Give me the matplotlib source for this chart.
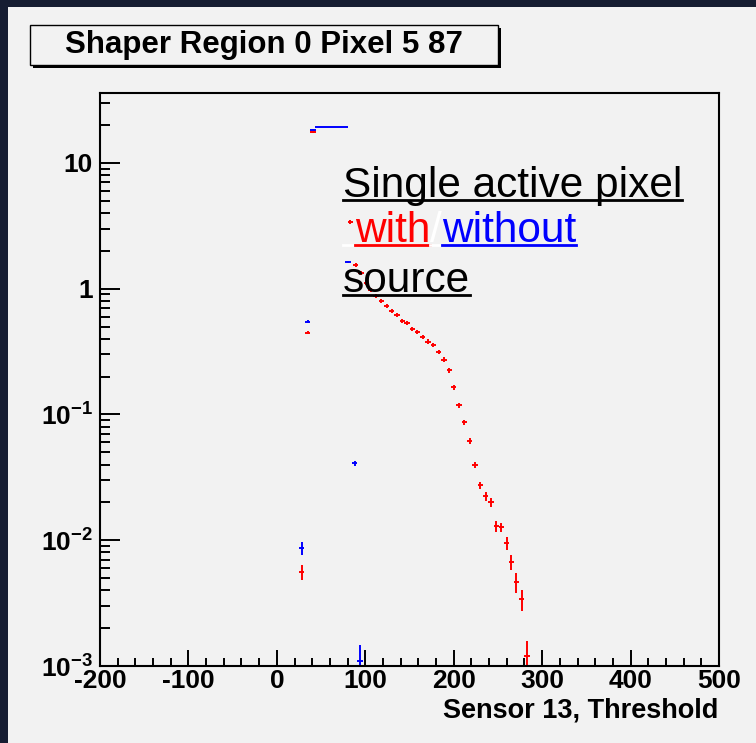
"""Shaper threshold scan, single active pixel with / without source."""

import matplotlib
matplotlib.use("Agg")
import numpy as np
import matplotlib.pyplot as plt
from matplotlib.patches import Rectangle
from matplotlib.lines import Line2D
from matplotlib.ticker import MultipleLocator, LogLocator, FuncFormatter, NullFormatter

# with source (red)
red_x = [28, 35, 41, 83, 89, 95, 101, 106, 112, 118, 124, 130, 136, 142, 147, 153,
         159, 165, 171, 177, 183, 189, 195, 200, 206, 212, 218, 224, 230, 236, 242,
         248, 254, 260, 265, 271, 277, 283]
red_y = [0.0056, 0.448, 17.6, 3.40, 1.55, 1.34, 1.12, 0.98, 0.88, 0.80, 0.733, 0.669,
         0.622, 0.557, 0.537, 0.481, 0.456, 0.416, 0.380, 0.359, 0.316, 0.273, 0.224,
         0.164, 0.118, 0.0866, 0.0621, 0.0394, 0.0273, 0.0223, 0.0200, 0.0129, 0.0127,
         0.0095, 0.00668, 0.00464, 0.00338, 0.00119]
red_err = [0.0008, 0.015, 0.15, 0.10, 0.05, 0.045, 0.04, 0.035, 0.03, 0.03, 0.027,
           0.025, 0.023, 0.021, 0.02, 0.018, 0.017, 0.016, 0.015, 0.014, 0.012, 0.011,
           0.009, 0.007, 0.006, 0.0045, 0.0035, 0.0022, 0.0016, 0.0017, 0.0015, 0.0012,
           0.001, 0.0011, 0.0009, 0.0008, 0.00065, 0.0004]

# without source (blue)
blue_x = [28, 35, 41, 61.5, 80.5, 88, 94]
blue_y = [0.0086, 0.547, 18.4, 19.3, 1.64, 0.041, 0.0011]
blue_err = [0.001, 0.015, 0.15, 0.0, 0.03, 0.002, 0.00036]
blue_halfwidth = [3, 3, 3, 18.5, 3, 3, 3]

bin_halfwidth = 3

W, H = 756, 743


def fx(px):
    return px / W


def fy(py):
    return 1 - py / H


plt.rcParams["font.family"] = ["Liberation Sans", "DejaVu Sans"]
plt.rcParams["font.weight"] = "bold"
plt.rcParams["axes.unicode_minus"] = False
plt.rcParams["mathtext.fontset"] = "custom"
plt.rcParams["mathtext.rm"] = "Liberation Sans:bold"
plt.rcParams["mathtext.bf"] = "Liberation Sans:bold"

fig = plt.figure(figsize=(7.56, 7.43), dpi=100, facecolor="#161d32")
fig.add_artist(Rectangle((fx(8), 0), 1, fy(7), transform=fig.transFigure,
                         facecolor="#f2f2f2", edgecolor="none", zorder=-2))

ax = fig.add_axes([fx(100), fy(666), fx(719) - fx(100), fy(93) - fy(666)])
ax.set_facecolor("#f2f2f2")

ax.errorbar(red_x, red_y, xerr=bin_halfwidth, yerr=red_err, fmt="none",
            ecolor="#ff0000", elinewidth=1.4, capsize=0)
ax.errorbar(blue_x, blue_y, xerr=blue_halfwidth, yerr=blue_err, fmt="none",
            ecolor="#0000ff", elinewidth=1.4, capsize=0)

ax.set_xlim(-200, 500)
ax.set_yscale("log")
ax.set_ylim(1e-3, 36)
ax.xaxis.set_major_locator(MultipleLocator(100))
ax.xaxis.set_minor_locator(MultipleLocator(20))
ax.yaxis.set_major_locator(LogLocator(base=10, numticks=10))
ax.yaxis.set_minor_locator(LogLocator(base=10, subs=range(2, 10), numticks=20))
ax.yaxis.set_minor_formatter(NullFormatter())


def yfmt(v, pos):
    e = int(round(np.log10(v)))
    if e == 0:
        return "1"
    if e == 1:
        return "10"
    return r"$\mathbf{10^{%d}}$" % e


ax.yaxis.set_major_formatter(FuncFormatter(yfmt))

ax.tick_params(axis="x", which="major", direction="in", length=11.5, width=1.4,
               pad=2, labelsize=19)
ax.tick_params(axis="x", which="minor", direction="in", length=5.8, width=1.4)
ax.tick_params(axis="y", which="major", direction="in", length=14.4, width=1.4,
               pad=5, labelsize=19)
ax.tick_params(axis="y", which="minor", direction="in", length=7.2, width=1.4)
ax.tick_params(top=False, right=False, which="both")
for s in ax.spines.values():
    s.set_linewidth(1.5)

fig.text(fx(718), fy(718), "Sensor 13, Threshold", ha="right", va="baseline",
         fontsize=19.5, weight="bold")

# title box with shadow
fig.add_artist(Rectangle((fx(33), fy(68)), fx(468), 40 / H, transform=fig.transFigure,
                         facecolor="black", edgecolor="none", zorder=-1))
fig.add_artist(Rectangle((fx(30), fy(65)), fx(468), 40 / H, transform=fig.transFigure,
                         facecolor="#f2f2f2", edgecolor="black", lw=1.0, zorder=-0.5))
fig.text(fx(264), fy(53), "Shaper Region 0 Pixel 5 87", ha="center", va="baseline",
         fontsize=22.5, weight="bold")

# annotation with underlines
renderer = fig.canvas.get_renderer()
big = 30.5


def underline(x0, x1, base, color):
    y = fy(base + 3)
    fig.add_artist(Line2D([x0, x1], [y, y], transform=fig.transFigure,
                          color=color, lw=2.0, zorder=5))


def put(px, base, s, color):
    t = fig.text(fx(px), fy(base), s, ha="left", va="baseline", fontsize=big,
                 weight="normal", color=color, zorder=5)
    bb = t.get_window_extent(renderer=renderer)
    underline(bb.x0 / W, bb.x1 / W, base, color)
    return bb.x1


put(343, 197, "Single active pixel", "black")
underline(fx(343), fx(355), 242, "white")
x = put(355, 242, "with", "#ff0000")
x = put(x, 242, "/", "white")
put(x, 242, "without", "#0000ff")
put(343, 292, "source", "black")

fig.savefig("out.png", dpi=100, facecolor=fig.get_facecolor())
plt.close(fig)
